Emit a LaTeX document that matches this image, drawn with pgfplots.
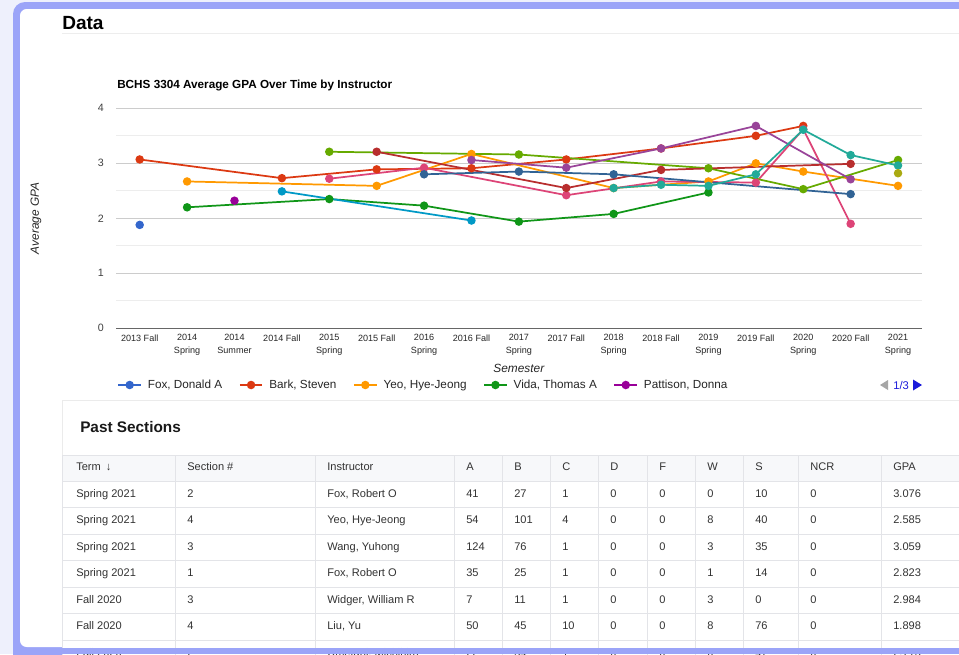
\documentclass[border=0pt]{standalone}
\usepackage{fontspec}
\setmainfont{Liberation Sans}
\usepackage{pgfplots}
\pgfplotsset{compat=1.18}
\definecolor{cA}{HTML}{3366CC}
\definecolor{cB}{HTML}{DC3912}
\definecolor{cC}{HTML}{FF9900}
\definecolor{cD}{HTML}{109618}
\definecolor{cE}{HTML}{990099}
\definecolor{cF}{HTML}{0099C6}
\definecolor{cG}{HTML}{DD4477}
\definecolor{cH}{HTML}{66AA00}
\definecolor{cI}{HTML}{B82E2E}
\definecolor{cJ}{HTML}{316395}
\definecolor{cK}{HTML}{994499}
\definecolor{cL}{HTML}{22AA99}
\definecolor{cM}{HTML}{AAAA11}
\definecolor{frame}{HTML}{9BA4F8}
\definecolor{bgl}{HTML}{EEF0FC}
\definecolor{txt}{HTML}{333333}
\definecolor{rule}{HTML}{E3E4E8}
\definecolor{hdr}{HTML}{F7F8FA}
\definecolor{pager}{HTML}{1A1ADB}
\begin{document}
\begin{tikzpicture}
\clip (0,0) rectangle (719.25pt,-490.5pt);
\begin{scope}[x=0.75pt,y=-0.75pt]
  \fill[bgl] (0,0) rectangle (959,654);
  \fill[frame, rounded corners=9pt] (13,2) rectangle (1000,700);
  \fill[white, rounded corners=5pt] (20,9) rectangle (990,647);
  \draw[black!7, line width=0.6pt] (62,33.5) -- (959,33.5);
  \node[anchor=base west, inner sep=0pt, font=\fontsize{14.3}{16}\selectfont\bfseries] at (62,29.3) {Data};
  \node[anchor=base west, inner sep=0pt, font=\fontsize{8.8}{10}\selectfont\bfseries] at (117,88) {BCHS 3304 Average GPA Over Time by Instructor};
  % pager
  \fill[black!35] (888,380) -- (888,390) -- (880,385) -- cycle;
  \node[anchor=base west, inner sep=0pt, text=pager, font=\fontsize{8.4}{10}\selectfont] at (893,389) {1/3};
  \fill[pager] (913,379.5) -- (913,390.5) -- (922,385) -- cycle;
\end{scope}

\begin{axis}[
  at={(87pt,-246.225pt)}, anchor=south west,
  scale only axis, width=604.3pt, height=165pt,
  xmin=-0.5, xmax=16.5, ymin=0, ymax=4,
  xtick={0,...,16},
  xticklabels={2013 Fall, {2014\\Spring}, {2014\\Summer}, 2014 Fall, {2015\\Spring}, 2015 Fall, {2016\\Spring}, 2016 Fall, {2017\\Spring}, 2017 Fall, {2018\\Spring}, 2018 Fall, {2019\\Spring}, 2019 Fall, {2020\\Spring}, 2020 Fall, {2021\\Spring}},
  ytick={0,1,2,3,4}, minor ytick={0.5,1.5,2.5,3.5},
  ymajorgrids, yminorgrids,
  major grid style={draw=black!20, line width=0.6pt},
  minor grid style={draw=black!7, line width=0.6pt},
  tick style={draw=none},
  axis x line*=bottom, axis y line*=left,
  x axis line style={draw=black!60, line width=0.9pt, -},
  y axis line style={draw=none},
  xticklabel style={font=\fontsize{6.8}{9.5}\selectfont, align=center, text=black!85, anchor=north, inner sep=0pt, yshift=-4.5pt},
  yticklabel style={font=\fontsize{8}{9}\selectfont, text=black!75, anchor=east, inner sep=0pt, xshift=-9pt},
  /pgf/number format/assume math mode=true,
  xlabel={Semester}, ylabel={Average GPA},
  xlabel style={at={(axis description cs:0.5,-0.1805)}, anchor=center, font=\fontsize{8.9}{10}\selectfont\itshape, text=black!85},
  ylabel style={at={(axis description cs:-0.0993,0.5)}, anchor=center, font=\fontsize{8.9}{10}\selectfont\itshape, text=black!85},
  legend columns=5,
  legend style={at={(axis description cs:0.0015,-0.2577)}, anchor=west, draw=none, fill=none, inner sep=0pt,
    font=\fontsize{8.8}{10}\selectfont, text=black!85,
    /tikz/every odd column/.append style={column sep=2.5pt},
    /tikz/every even column/.append style={column sep=10.5pt}},
  legend cell align=left,
  legend image code/.code={\draw[mark repeat=2,mark phase=2] plot coordinates {(0pt,0pt)(8.5pt,0pt)(17pt,0pt)};},
  every axis plot/.append style={line width=1.3pt, mark=*, mark size=2.5pt, mark options={solid}},
  clip=false,
]
\addplot[cA, mark options={fill=cA}] coordinates {(0,1.88)};
\addlegendentry{Fox, Donald A}
\addplot[cB, mark options={fill=cB}] coordinates {(0,3.07)(3,2.73)(5,2.89)(7,2.91)(9,3.07)(11,3.27)(13,3.50)(14,3.68)};
\addlegendentry{Bark, Steven}
\addplot[cC, mark options={fill=cC}] coordinates {(1,2.67)(5,2.59)(7,3.17)(10,2.55)(12,2.67)(13,3.00)(14,2.85)(16,2.59)};
\addlegendentry{Yeo, Hye-Jeong}
\addplot[cD, mark options={fill=cD}] coordinates {(1,2.20)(4,2.35)(6,2.23)(8,1.94)(10,2.08)(12,2.47)};
\addlegendentry{Vida, Thomas A}
\addplot[cE, mark options={fill=cE}] coordinates {(2,2.32)};
\addlegendentry{Pattison, Donna}
\addplot[cF, mark options={fill=cF}, forget plot] coordinates {(3,2.49)(7,1.96)};
\addplot[cG, mark options={fill=cG}, forget plot] coordinates {(4,2.72)(6,2.92)(9,2.42)(11,2.67)(13,2.65)(14,3.62)(15,1.90)};
\addplot[cH, mark options={fill=cH}, forget plot] coordinates {(4,3.21)(8,3.16)(12,2.91)(14,2.53)(16,3.06)};
\addplot[cI, mark options={fill=cI}, forget plot] coordinates {(5,3.21)(9,2.55)(11,2.88)(15,2.99)};
\addplot[cJ, mark options={fill=cJ}, forget plot] coordinates {(6,2.80)(8,2.85)(10,2.80)(15,2.44)};
\addplot[cK, mark options={fill=cK}, forget plot] coordinates {(7,3.06)(9,2.92)(11,3.27)(13,3.68)(15,2.71)};
\addplot[cL, mark options={fill=cL}, forget plot] coordinates {(10,2.55)(11,2.61)(12,2.59)(13,2.80)(14,3.61)(15,3.15)(16,2.96)};
\addplot[cM, mark options={fill=cM}, forget plot] coordinates {(16,2.82)};
\end{axis}

\begin{scope}[x=0.75pt,y=-0.75pt, cell/.style={anchor=base west, inner sep=0pt, text=txt, font=\fontsize{8.3}{10}\selectfont}]
  \fill[white] (62,400) rectangle (990,660);
  \draw[black!8, line width=0.6pt] (62.3,660) -- (62.3,400.3) -- (990,400.3);
  \node[anchor=base west, inner sep=0pt, font=\fontsize{11.5}{13}\selectfont\bfseries, text=black!90] at (80,432.5) {Past Sections};
  \fill[hdr] (62,455) rectangle (990,481);
  \foreach \yy in {455,481,507.5,534,560.5,587,613.5,640} {\draw[rule, line width=0.7pt] (62,\yy) -- (990,\yy);}
  \foreach \xx in {62.5,175,315,454,502,550,598,647,695,743,798,881} {\draw[rule, line width=0.7pt] (\xx,455) -- (\xx,660);}
  \node[cell] at (76,470.5) {Term \,↓};
  \node[cell] at (187,470.5) {Section \#};
  \node[cell] at (327,470.5) {Instructor};
  \node[cell] at (466,470.5) {A};
  \node[cell] at (514,470.5) {B};
  \node[cell] at (562,470.5) {C};
  \node[cell] at (610,470.5) {D};
  \node[cell] at (659,470.5) {F};
  \node[cell] at (707,470.5) {W};
  \node[cell] at (755,470.5) {S};
  \node[cell] at (810,470.5) {NCR};
  \node[cell] at (893,470.5) {GPA};
  \foreach \yy/\ta/\tb/\tc/\td/\te/\tf/\tg/\th/\ti/\tj/\tk/\tl in {
    497/Spring 2021/2/{Fox, Robert O}/41/27/1/0/0/0/10/0/3.076,
    523.5/Spring 2021/4/{Yeo, Hye-Jeong}/54/101/4/0/0/8/40/0/2.585,
    550/Spring 2021/3/{Wang, Yuhong}/124/76/1/0/0/3/35/0/3.059,
    576.5/Spring 2021/1/{Fox, Robert O}/35/25/1/0/0/1/14/0/2.823,
    603/Fall 2020/3/{Widger, William R}/7/11/1/0/0/3/0/0/2.984,
    629.5/Fall 2020/4/{Liu, Yu}/50/45/10/0/0/8/76/0/1.898,
    656/Fall 2020/2/{Umetani, Michihiro}/22/54/1/0/0/0/47/0/2.715} {
    \node[cell] at (76,\yy) {\ta};
    \node[cell] at (187,\yy) {\tb};
    \node[cell] at (327,\yy) {\tc};
    \node[cell] at (466,\yy) {\td};
    \node[cell] at (514,\yy) {\te};
    \node[cell] at (562,\yy) {\tf};
    \node[cell] at (610,\yy) {\tg};
    \node[cell] at (659,\yy) {\th};
    \node[cell] at (707,\yy) {\ti};
    \node[cell] at (755,\yy) {\tj};
    \node[cell] at (810,\yy) {\tk};
    \node[cell] at (893,\yy) {\tl};
  }
  % bottom frame band
  \fill[frame] (13,647.5) rectangle (959,654);
  \fill[frame] (13,400) rectangle (20,654);
\end{scope}
\end{tikzpicture}
\end{document}
